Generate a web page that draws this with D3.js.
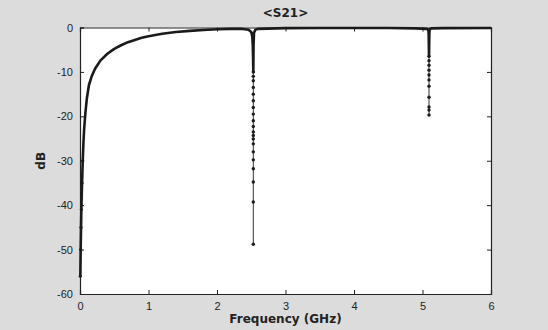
<!DOCTYPE html>
<html lang="en">
<head>
  <meta charset="UTF-8">
  <title>S21</title>
  <script src="https://d3js.org/d3.v7.min.js"></script>
  <style>
    body { margin: 0; overflow: hidden; background: #dcdcdc; }
    svg { display: block; }
  </style>
</head>
<body>
  <svg id="chart" width="548" height="330"></svg>
  <script>
    // main trace (GHz, dB)
    const freq = [0.005, 0.01, 0.015, 0.02, 0.03, 0.04, 0.05, 0.06, 0.08, 0.1, 0.13, 0.17, 0.22,
      0.3, 0.4, 0.5, 0.6, 0.7, 0.8, 0.9, 1.0, 1.2, 1.4, 1.6, 1.8, 2.0, 2.2, 2.35, 2.46, 2.5,
      2.515, 2.522, 2.527, 2.53, 2.534, 2.54, 2.56, 2.6, 3.0, 3.5, 4.0, 4.5, 4.9, 5.06, 5.085,
      5.09, 5.095, 5.1, 5.105, 5.13, 5.3, 6.0];
    const s21 = [-56, -50, -45, -41, -35, -30, -26, -23, -19, -16, -13, -11, -9.3,
      -7.4, -5.9, -4.8, -4.0, -3.3, -2.8, -2.3, -1.95, -1.4, -1.0, -0.75, -0.55, -0.4, -0.3, -0.3, -0.5, -1.0,
      -2.0, -4.0, -7, -10, -4, -1.2, -0.5, -0.3, -0.15, -0.1, -0.1, -0.1, -0.2, -0.3, -0.5,
      -1.5, -6.5, -1.2, -0.4, -0.2, -0.15, -0.1];

    // sparse points down the two notches
    const dip1Freq = [2.53, 2.53, 2.53, 2.53, 2.53, 2.53, 2.53, 2.53, 2.53, 2.53, 2.53, 2.53,
      2.53, 2.53, 2.53, 2.53, 2.53, 2.53, 2.53, 2.53];
    const dip1Db = [-10, -11, -12, -13.5, -15, -16.5, -18, -19.5, -21, -22.3, -23.5, -24.3,
      -25.1, -26.2, -28, -29.8, -31.8, -34.8, -39.3, -48.8];
    const dip2Freq = [5.095, 5.095, 5.095, 5.095, 5.095, 5.095, 5.095, 5.095, 5.095, 5.095, 5.095];
    const dip2Db = [-6.5, -7.5, -8.5, -9.6, -10.7, -11.8, -13.2, -15.7, -17.9, -18.6, -19.7];

    const xTicks = [0, 1, 2, 3, 4, 5, 6];
    const yTicks = [0, -10, -20, -30, -40, -50, -60];

    const margin = { top: 27.5, right: 57, bottom: 36, left: 80 };
    const W = 548, H = 330;
    const svg = d3.select("#chart");

    svg.append("rect").attr("width", W).attr("height", H).attr("fill", "#dcdcdc");

    const x = d3.scaleLinear().domain([0, 6]).range([margin.left, W - margin.right]);
    const y = d3.scaleLinear().domain([-60, 0]).range([H - margin.bottom, margin.top]);

    svg.append("rect")
      .attr("x", x(0)).attr("y", y(0))
      .attr("width", x(6) - x(0)).attr("height", y(-60) - y(0))
      .attr("fill", "#fff");

    const font = "'Liberation Sans', Arial, sans-serif";
    const plain = d => String(d); // hyphen minus, like the original

    // axes, ticks inside like matlab
    const axBottom = svg.append("g").attr("transform", `translate(0,${y(-60)})`)
      .call(d3.axisBottom(x).tickValues(xTicks).tickSize(-4).tickPadding(8).tickFormat(plain));
    const axTop = svg.append("g").attr("transform", `translate(0,${y(0)})`)
      .call(d3.axisTop(x).tickValues(xTicks).tickSize(-4).tickFormat(""));
    const axLeft = svg.append("g").attr("transform", `translate(${x(0)},0)`)
      .call(d3.axisLeft(y).tickValues(yTicks).tickSize(-4).tickPadding(7).tickFormat(plain));
    const axRight = svg.append("g").attr("transform", `translate(${x(6)},0)`)
      .call(d3.axisRight(y).tickValues(yTicks).tickSize(-4).tickFormat(""));

    [axBottom, axTop, axLeft, axRight].forEach(g => {
      g.select(".domain").attr("stroke", "#222").attr("stroke-width", 1.2);
      g.selectAll(".tick line").attr("stroke", "#222");
      g.selectAll("text").attr("font-family", font).attr("font-size", 11).attr("fill", "#222");
    });

    const line = d3.line().x(d => x(d[0])).y(d => y(d[1]));

    // dense trace
    svg.append("path")
      .datum(d3.zip(freq, s21))
      .attr("d", line)
      .attr("fill", "none")
      .attr("stroke", "#1a1a1a")
      .attr("stroke-width", 2.6)
      .attr("stroke-linejoin", "round");

    // notch tails, thin line with dot markers
    [[dip1Freq, dip1Db], [dip2Freq, dip2Db]].forEach(([f, v]) => {
      const pts = d3.zip(f, v);
      svg.append("path").datum(pts).attr("d", line)
        .attr("fill", "none").attr("stroke", "#333").attr("stroke-width", 1);
      svg.append("g").selectAll("circle").data(pts).enter().append("circle")
        .attr("cx", d => x(d[0])).attr("cy", d => y(d[1])).attr("r", 1.7)
        .attr("fill", "#1a1a1a");
    });

    // dots near the low-frequency start
    svg.append("g").selectAll("circle").data(d3.zip(freq, s21).slice(0, 6)).enter().append("circle")
      .attr("cx", d => x(d[0])).attr("cy", d => y(d[1])).attr("r", 1.6).attr("fill", "#1a1a1a");

    // titles
    const bold = "'DejaVu Sans', Verdana, sans-serif";
    svg.append("text").attr("x", (x(0) + x(6)) / 2).attr("y", 17)
      .attr("text-anchor", "middle").attr("font-family", bold).attr("font-weight", "bold")
      .attr("font-size", 12).attr("fill", "#222").text("<S21>");
    svg.append("text").attr("x", (x(0) + x(6)) / 2).attr("y", 323)
      .attr("text-anchor", "middle").attr("font-family", bold).attr("font-weight", "bold")
      .attr("font-size", 12).attr("fill", "#222").text("Frequency (GHz)");
    svg.append("text").attr("transform", `translate(45,${(y(0) + y(-60)) / 2}) rotate(-90)`)
      .attr("text-anchor", "middle").attr("font-family", bold).attr("font-weight", "bold")
      .attr("font-size", 12).attr("fill", "#222").text("dB");
  </script>
</body>
</html>
